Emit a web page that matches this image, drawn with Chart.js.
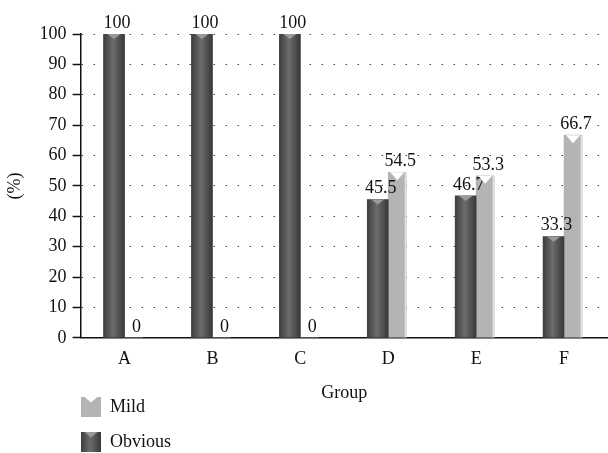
<!DOCTYPE html>
<html>
<head>
<meta charset="utf-8">
<script src="https://cdn.jsdelivr.net/npm/chart.js@4"></script>
<style>
  html, body { margin: 0; padding: 0; background: #fff; }
  #wrap { position: relative; width: 608px; height: 453px; }
  #legend { position: absolute; left: 81px; top: 389px; font-family: "Liberation Serif", serif; font-size: 18px; color: #111; }
  .item { display: flex; align-items: center; height: 35px; }
  .box { position: relative; width: 20px; height: 20px; margin-right: 9px; overflow: hidden; }
  .box::after { content: ''; position: absolute; left: 3px; right: 3px; top: 0; height: 6px; clip-path: polygon(0 0, 100% 0, 50% 100%); }
  .mild { background: #b4b4b4; }
  .mild::after { background: #fff; }
  .obvious { background: linear-gradient(to right, #3d3d3d, #6d6d6d 45%, #383838); }
  .obvious::after { background: #9a9a9a; }
</style>
</head>
<body>
<div id="wrap">
  <canvas id="chart" width="608" height="453"></canvas>
  <div id="legend">
    <div class="item"><span class="box mild"></span>Mild</div>
    <div class="item"><span class="box obvious"></span>Obvious</div>
  </div>
</div>
<script>
const groups = ['A', 'B', 'C', 'D', 'E', 'F'];
const obvious = [100, 100, 100, 45.5, 46.7, 33.3];
const mild = [0, 0, 0, 54.5, 53.3, 66.7];

const serif = '"Liberation Serif", "DejaVu Serif", serif';

// cylinder shading, top notch and value labels, using the bar positions from the library
const barDecor = {
  id: 'barDecor',
  afterDatasetsDraw(chart) {
    const ctx = chart.ctx;
    chart.data.datasets.forEach((ds, di) => {
      const meta = chart.getDatasetMeta(di);
      meta.data.forEach((bar, i) => {
        const { x, y, base, width } = bar.getProps(['x', 'y', 'base', 'width'], true);
        const left = x - width / 2;
        const h = base - y;
        ctx.save();
        if (h > 0) {
          if (ds.label === 'Obvious') {
            const g = ctx.createLinearGradient(left, 0, left + width, 0);
            g.addColorStop(0, '#3d3d3d');
            g.addColorStop(0.45, '#6d6d6d');
            g.addColorStop(1, '#383838');
            ctx.fillStyle = g;
            ctx.fillRect(left, y, width, h);
            ctx.fillStyle = '#9a9a9a';
            ctx.beginPath();
            ctx.moveTo(left + 4, y);
            ctx.lineTo(left + width - 4, y);
            ctx.lineTo(x, y + 5);
            ctx.closePath();
            ctx.fill();
          } else {
            ctx.fillStyle = '#e2e2e2';
            ctx.fillRect(left + width - 1.5, y, 1.5, h);
            ctx.fillStyle = '#ffffff';
            ctx.beginPath();
            ctx.moveTo(left + 2, y);
            ctx.lineTo(left + width - 2, y);
            ctx.lineTo(x, y + 8);
            ctx.closePath();
            ctx.fill();
          }
        }
        ctx.fillStyle = '#111';
        ctx.font = '18px ' + serif;
        ctx.textAlign = 'center';
        ctx.textBaseline = 'bottom';
        ctx.fillText(String(ds.data[i]), x + 3, y - 2);
        ctx.restore();
      });
    });
  }
};

new Chart(document.getElementById('chart'), {
  type: 'bar',
  data: {
    labels: groups,
    datasets: [
      { label: 'Obvious', data: obvious, backgroundColor: '#555555', barThickness: 21 },
      { label: 'Mild', data: mild, backgroundColor: '#b4b4b4', barThickness: 18 }
    ]
  },
  options: {
    responsive: false,
    animation: false,
    layout: { padding: { top: 34, right: 0, bottom: 49, left: 4 } },
    plugins: {
      legend: { display: false },
      tooltip: { enabled: false }
    },
    scales: {
      x: {
        grid: { display: false },
        border: { display: true, color: '#111', width: 1.5 },
        ticks: { color: '#111', font: { family: serif, size: 18 }, padding: 3 },
        title: { display: true, text: 'Group', color: '#111', font: { family: serif, size: 18 }, padding: { top: 9, bottom: 0 } }
      },
      y: {
        min: 0,
        max: 100,
        ticks: { stepSize: 10, color: '#111', font: { family: serif, size: 18 }, padding: 6 },
        grid: { color: '#444', lineWidth: 1, tickLength: 8, tickColor: '#111', tickWidth: 1.5, tickBorderDash: [] },
        border: { display: true, color: '#111', width: 1.5, dash: [1.5, 10.5] },
        title: { display: true, text: '(%)', color: '#111', font: { family: serif, size: 18 }, padding: { top: 0, bottom: 8 } }
      }
    }
  },
  plugins: [barDecor]
});
</script>
</body>
</html>
